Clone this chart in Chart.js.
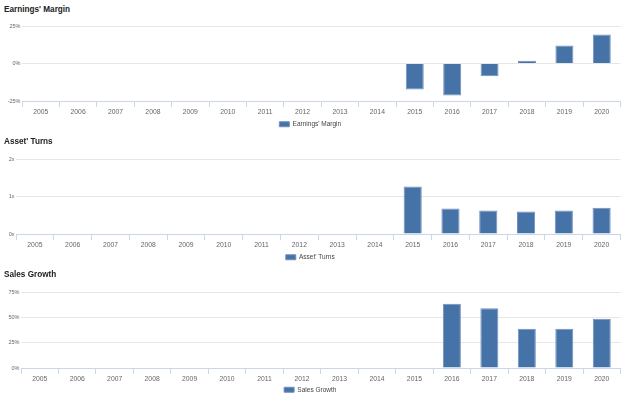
<!DOCTYPE html>
<html>
<head>
<meta charset="utf-8">
<script src="https://cdn.jsdelivr.net/npm/chart.js@4/dist/chart.umd.min.js"></script>
<style>
  html, body { margin: 0; padding: 0; background: #ffffff; width: 624px; height: 395px; overflow: hidden; position: relative; }
  .title { position: absolute; left: 4px; font-family: 'Liberation Sans', Arial, sans-serif; font-weight: bold; font-size: 8.2px; line-height: 10px; color: #222; z-index: 2; white-space: nowrap; }
  canvas { position: absolute; left: 0; }
</style>
</head>
<body>
<div class="title" style="top:4.5px">Earnings' Margin</div>
<div class="title" style="top:137.3px">Asset' Turns</div>
<div class="title" style="top:269.7px">Sales Growth</div>
<canvas id="c1" width="624" height="120" style="top:18px"></canvas>
<canvas id="c2" width="624" height="120" style="top:151px"></canvas>
<canvas id="c3" width="624" height="119" style="top:284px"></canvas>
<script>
const years = ['2005','2006','2007','2008','2009','2010','2011','2012','2013','2014','2015','2016','2017','2018','2019','2020'];
const earningsMargin = [null,null,null,null,null,null,null,null,null,null,-17.3,-21.3,-8.5,1.8,12.0,19.3];
const assetTurns = [null,null,null,null,null,null,null,null,null,null,1.27,0.68,0.625,0.6,0.625,0.70];
const salesGrowth = [null,null,null,null,null,null,null,null,null,null,null,63.5,58.9,38.7,38.7,48.6];
const marginTicks = [-25, 0, 25];
const turnsTicks = [0, 1, 2];
const growthTicks = [0, 25, 50, 75];

const FONT = "'Liberation Sans', Arial, sans-serif";
const BAR = '#4572A7';

function makeChart(id, label, values, tickVals, suffix, yWidth, xHeight, padBottom) {
  const min = tickVals[0], max = tickVals[tickVals.length - 1];
  const step = tickVals[1] - tickVals[0];
  new Chart(document.getElementById(id), {
    type: 'bar',
    data: {
      labels: years,
      datasets: [{
        label: label,
        data: values,
        backgroundColor: BAR,
        borderColor: '#7390bd',
        borderWidth: 1,
        barPercentage: 0.48,
        categoryPercentage: 1.0
      }]
    },
    options: {
      responsive: false,
      animation: false,
      layout: { padding: { top: 8, left: 0, right: 3.5, bottom: padBottom } },
      plugins: {
        tooltip: { enabled: false },
        legend: {
          display: true,
          position: 'bottom',
          labels: {
            boxWidth: 10, boxHeight: 5, padding: 1.5,
            color: '#444',
            font: { family: FONT, size: 6.5 }
          }
        }
      },
      scales: {
        x: {
          grid: {
            display: true, drawOnChartArea: false, drawTicks: true,
            tickLength: 6, color: '#ccd6eb', offset: true, lineWidth: 1
          },
          border: { display: true, color: '#ccd6eb', width: 1 },
          ticks: {
            color: '#666', padding: 1, maxRotation: 0, autoSkip: false,
            font: { family: FONT, size: 6.8 }
          },
          afterFit: s => { s.height = xHeight; }
        },
        y: {
          min: min, max: max,
          grid: {
            drawTicks: false,
            color: c => (c.tick && c.tick.value === min) ? 'rgba(0,0,0,0)' : '#e6e6e6',
            lineWidth: 1
          },
          border: { display: false },
          ticks: {
            stepSize: step, padding: 1.5, color: '#666',
            font: { family: FONT, size: 5.5 },
            callback: v => v + suffix
          },
          afterFit: s => { s.width = yWidth; }
        }
      }
    }
  });
}

makeChart('c1', "Earnings' Margin", earningsMargin, marginTicks, '%', 22, 18.5, 0.5);
makeChart('c2', "Asset' Turns", assetTurns, turnsTicks, 'x', 16, 18.5, 0.5);
makeChart('c3', 'Sales Growth', salesGrowth, growthTicks, '%', 21, 17, 0);
</script>
</body>
</html>
